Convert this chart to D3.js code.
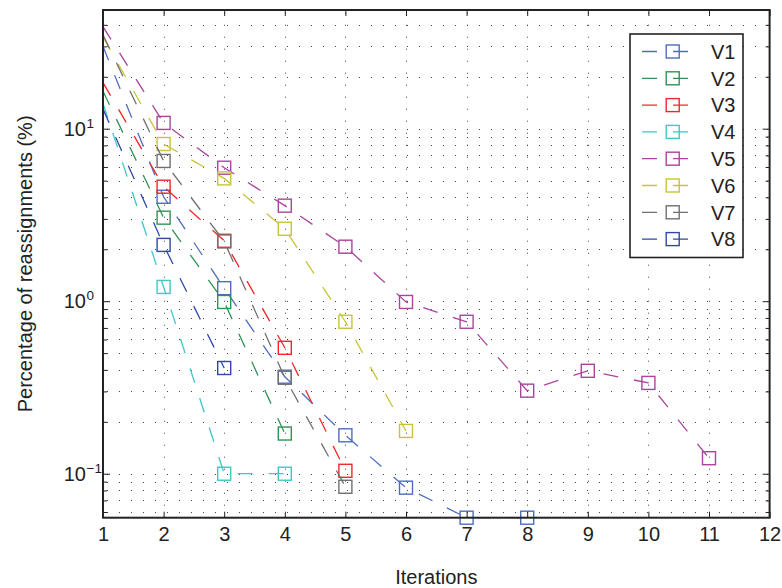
<!DOCTYPE html>
<html>
<head>
<meta charset="utf-8">
<script src="https://cdn.jsdelivr.net/npm/d3@7"></script>
<style>
  html, body { margin: 0; padding: 0; background: #fff; }
  svg { display: block; font-family: "Liberation Sans", Arial, Helvetica, sans-serif; }
</style>
</head>
<body>
<svg id="chart" width="782" height="588"></svg>
<script>
// ---- data ----
const iterations = [1, 2, 3, 4, 5, 6, 7, 8, 9, 10, 11];
const seriesNames = ["V1", "V2", "V3", "V4", "V5", "V6", "V7", "V8"];
const V1 = [30, 4.03, 1.19, 0.365, 0.167, 0.083, 0.0556, 0.0556];
const V2 = [16.5, 3.05, 0.99, 0.171];
const V3 = [18.5, 4.61, 2.24, 0.537, 0.104];
const V4 = [14, 1.21, 0.1, 0.1];
const V5 = [39, 10.8, 5.94, 3.58, 2.07, 0.99, 0.76, 0.303, 0.395, 0.336, 0.123];
const V6 = [34, 8.15, 5.15, 2.63, 0.76, 0.177];
const V7 = [35, 6.5, 2.22, 0.36, 0.084];
const V8 = [13, 2.12, 0.41];
const seriesValues = [V1, V2, V3, V4, V5, V6, V7, V8];
const seriesColors = ["#4f6cc0", "#2f9356", "#f0282a", "#3ec8c8", "#aa459f", "#c8c43a", "#707070", "#2f48a8"];
const xTicks = [1, 2, 3, 4, 5, 6, 7, 8, 9, 10, 11, 12];
const yMajorTicks = [0.1, 1, 10];
const yMajorExp = ["\u22121", "0", "1"];
const yMinorTicks = [0.06, 0.07, 0.08, 0.09, 0.2, 0.3, 0.4, 0.5, 0.6, 0.7, 0.8, 0.9, 2, 3, 4, 5, 6, 7, 8, 9, 20, 30, 40];
const xDomain = [1, 12];
const yDomain = [0.0556, 48.75];
const xLabel = "Iterations";
const yLabel = "Percentage of reassignments (%)";

// ---- layout ----
const L = 103, T = 10, R = 769.6, B = 517.7;
const svg = d3.select("#chart");
const x = d3.scaleLinear().domain(xDomain).range([L, R]);
const y = d3.scaleLog().domain(yDomain).range([B, T]);

// grid
const grid = svg.append("g").attr("stroke", "#444").attr("stroke-width", 1).attr("stroke-dasharray", "1,11");
grid.selectAll("line.gx").data(xTicks.filter(d => d > xDomain[0] && d < xDomain[1])).enter()
  .append("line").attr("x1", d => Math.round(x(d)) + 0.5).attr("x2", d => Math.round(x(d)) + 0.5)
  .attr("y1", B).attr("y2", T);
grid.selectAll("line.gy").data(yMajorTicks.concat(yMinorTicks)).enter()
  .append("line").attr("y1", d => Math.round(y(d)) + 0.5).attr("y2", d => Math.round(y(d)) + 0.5)
  .attr("x1", L + 4).attr("x2", R);

// clip
svg.append("clipPath").attr("id", "clip").append("rect")
  .attr("x", L).attr("y", T - 8).attr("width", R - L + 8).attr("height", B - T + 16);

// series
const line = d3.line().x((d, i) => x(iterations[i])).y(d => y(d));
const plot = svg.append("g").attr("clip-path", "url(#clip)");
const ms = 13;
seriesValues.forEach((vals, k) => {
  plot.append("path").datum(vals).attr("d", line)
    .attr("fill", "none").attr("stroke", seriesColors[k]).attr("stroke-width", 1.3)
    .attr("stroke-dasharray", "15,16");
  plot.selectAll(null).data(vals.slice(1).map((v, i) => ({v, i: i + 1}))).enter()
    .append("rect")
    .attr("x", d => x(iterations[d.i]) - ms / 2).attr("y", d => y(d.v) - ms / 2)
    .attr("width", ms).attr("height", ms)
    .attr("fill", "none").attr("stroke", seriesColors[k]).attr("stroke-width", 1.4);
});

// axes (ticks inward)
const axisColor = "#222";
const fontSize = 20;
const gB = svg.append("g").attr("transform", `translate(0,${B})`)
  .call(d3.axisBottom(x).tickValues(xTicks).tickSizeInner(-6).tickSizeOuter(0).tickPadding(9).tickFormat(d3.format("d")));
const gT = svg.append("g").attr("transform", `translate(0,${T})`)
  .call(d3.axisTop(x).tickValues(xTicks).tickSizeInner(-6).tickSizeOuter(0).tickFormat(""));
const gL = svg.append("g").attr("transform", `translate(${L},0)`)
  .call(d3.axisLeft(y).tickValues(yMajorTicks).tickSizeInner(-7).tickSizeOuter(0).tickFormat(""));
const gLm = svg.append("g").attr("transform", `translate(${L},0)`)
  .call(d3.axisLeft(y).tickValues(yMinorTicks).tickSizeInner(-4).tickSizeOuter(0).tickFormat(""));
const gR = svg.append("g").attr("transform", `translate(${R},0)`)
  .call(d3.axisRight(y).tickValues(yMajorTicks).tickSizeInner(-7).tickSizeOuter(0).tickFormat(""));
const gRm = svg.append("g").attr("transform", `translate(${R},0)`)
  .call(d3.axisRight(y).tickValues(yMinorTicks).tickSizeInner(-4).tickSizeOuter(0).tickFormat(""));
[gB, gT, gL, gLm, gR, gRm].forEach(g => {
  g.select(".domain").remove();
  g.selectAll(".tick line").attr("stroke", axisColor).attr("stroke-width", 1);
});
gB.selectAll(".tick text").attr("font-size", fontSize).attr("fill", "#222")
  .attr("font-family", "Liberation Sans, Arial, sans-serif");

// y tick labels with superscripts
const yl = svg.append("g").attr("fill", "#222");
yMajorTicks.forEach((t, i) => {
  yl.append("text").attr("x", 86).attr("y", y(t)).attr("dy", "0.36em")
    .attr("font-size", fontSize).attr("text-anchor", "end").text("10");
  yl.append("text").attr("x", 86.5).attr("y", y(t) - 1).attr("font-size", 13.5)
    .text(yMajorExp[i]);
});

// frame
svg.append("rect").attr("x", L).attr("y", T).attr("width", R - L).attr("height", B - T)
  .attr("fill", "none").attr("stroke", axisColor).attr("stroke-width", 2);

// axis labels
svg.append("text").attr("x", (L + R) / 2).attr("y", 584).attr("text-anchor", "middle")
  .attr("font-size", fontSize).attr("fill", "#222").text(xLabel);
svg.append("text").attr("transform", `translate(31.5,${(T + B) / 2}) rotate(-90)`)
  .attr("text-anchor", "middle").attr("font-size", fontSize).attr("fill", "#222").text(yLabel);

// legend
const lg = svg.append("g");
lg.append("rect").attr("x", 630).attr("y", 34).attr("width", 113).attr("height", 223.5)
  .attr("fill", "#fff").attr("stroke", axisColor).attr("stroke-width", 1.6);
seriesNames.forEach((name, k) => {
  const cy = 51.5 + k * 26.8;
  lg.append("line").attr("x1", 642).attr("x2", 690).attr("y1", cy).attr("y2", cy)
    .attr("stroke", seriesColors[k]).attr("stroke-width", 1.3).attr("stroke-dasharray", "15,16");
  lg.append("rect").attr("x", 672.7 - ms / 2).attr("y", cy - ms / 2).attr("width", ms).attr("height", ms)
    .attr("fill", "none").attr("stroke", seriesColors[k]).attr("stroke-width", 1.4);
  lg.append("text").attr("x", 711).attr("y", cy).attr("dy", "0.36em")
    .attr("font-size", fontSize).attr("fill", "#222").text(name);
});
</script>
</body>
</html>
